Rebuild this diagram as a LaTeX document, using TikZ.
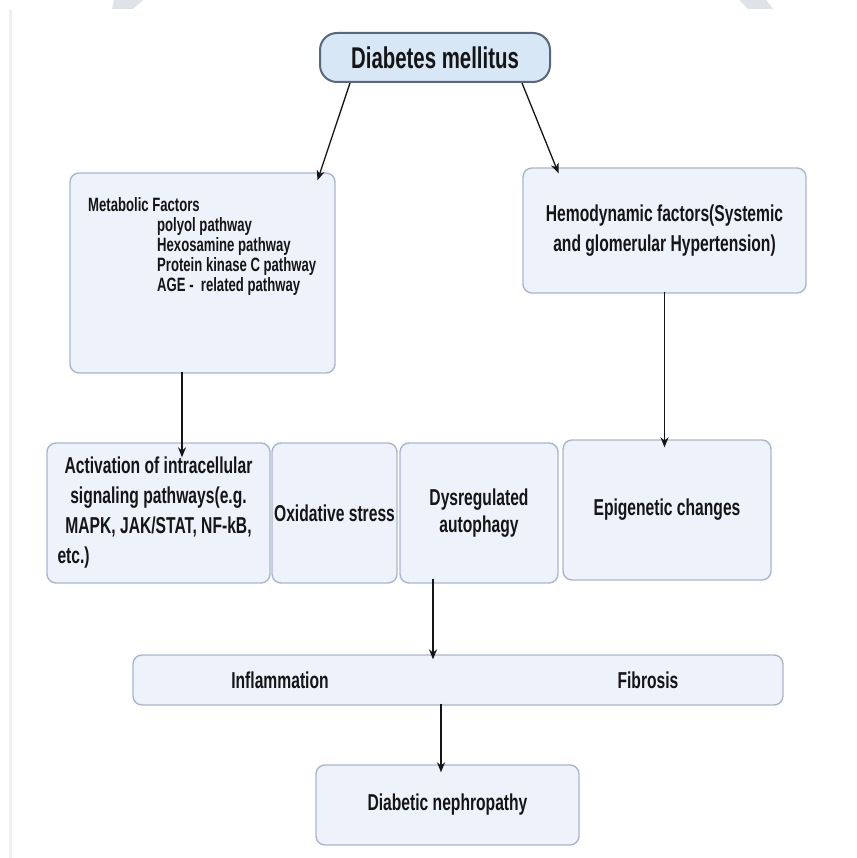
\documentclass[tikz,border=0pt]{standalone}
\usepackage{fontspec}
\setmainfont{Liberation Sans}[FakeStretch=0.68]
\usetikzlibrary{arrows.meta,calc}
\definecolor{boxfill}{HTML}{EEF3FB}
\definecolor{boxline}{HTML}{A9B7CD}
\definecolor{titlefill}{HTML}{D8E7F5}
\definecolor{titleline}{HTML}{55687D}
\definecolor{inkgray}{HTML}{151515}
\definecolor{markgray}{HTML}{DEE3E8}
\tikzset{
  factorbox/.style = {
    draw=boxline, fill=boxfill, line width=1.4pt,
    rounded corners=9pt, inner sep=0pt,
    text=inkgray, align=center,
    font=\bfseries\fontsize{23}{30}\selectfont
  },
  titlebox/.style = {
    factorbox, draw=titleline, fill=titlefill, line width=2pt,
    rounded corners=17pt,
    font=\bfseries\fontsize{30}{30}\selectfont
  },
  plainlabel/.style = {
    inner sep=0pt, text=inkgray,
    font=\bfseries\fontsize{23}{30}\selectfont
  },
  flowarrow/.style = {
    -{Stealth[length=10pt,width=8pt]}, line width=1.3pt, draw=inkgray
  },
}

\begin{document}
\begin{tikzpicture}[x=1pt,y=-1pt]
  \pgfmathsetmacro{\rowy}{513};
  \pgfmathsetmacro{\rowh}{140};
  % page and faint marks
  \path[fill=white] (0,0) rectangle (856,858);
  \useasboundingbox (0,0) rectangle (856,858);
  \fill[markgray] (114,0) -- (143,0) -- (133,9) -- (112,9) -- cycle;
  \fill[markgray] (739,0) -- (766,0) -- (773,9) -- (748,9) -- cycle;
  \draw[gray!12,line width=3pt] (10,10) -- (10,858);
  % top
  \node[titlebox,minimum width=230pt,minimum height=49pt] (dm) at (435,57.5) {Diabetes mellitus};
  \node[factorbox,minimum width=265pt,minimum height=200pt] (meta) at (202.5,273) {};
  \node[plainlabel,anchor=north west,align=left,font=\bfseries\fontsize{19.3}{20.2}\selectfont] (metatext) at (88,197)
    {Metabolic Factors\\
     \hspace*{69pt}polyol pathway\\
     \hspace*{69pt}Hexosamine pathway\\
     \hspace*{69pt}Protein kinase C pathway\\
     \hspace*{69pt}AGE -\ \ related pathway};
  \node[factorbox,minimum width=283pt,minimum height=125pt] (hemo) at (664.5,230.5)
    {Hemodynamic factors(Systemic\\and glomerular Hypertension)};
  % middle row
  \node[factorbox,minimum width=223pt,minimum height=\rowh pt] (act) at (158.5,\rowy)
    {Activation of intracellular\\signaling pathways(e.g.\\MAPK, JAK/STAT, NF-kB,\\\makebox[202pt][l]{etc.)}};
  \node[factorbox,minimum width=125pt,minimum height=\rowh pt] (oxi) at (334.5,\rowy) {Oxidative stress};
  \node[factorbox,minimum width=158pt,minimum height=\rowh pt,font=\bfseries\fontsize{23}{27}\selectfont] (dys) at (479,\rowy)
    {Dysregulated\\autophagy};
  \node[factorbox,minimum width=208pt,minimum height=\rowh pt] (epi) at (667,510) {Epigenetic changes};
  % bottom
  \node[factorbox,minimum width=650pt,minimum height=50pt] (bar) at (458,680) {};
  \node[plainlabel] (infl) at ([xshift=-178pt]bar.center) {Inflammation};
  \node[plainlabel] (fib) at ([xshift=190pt]bar.center) {Fibrosis};
  \node[factorbox,minimum width=263pt,minimum height=80pt] (nep) at (447.5,805) {Diabetic nephropathy};
  % arrows
  \draw[flowarrow] ([xshift=-85pt]dm.south) -- ([xshift=115pt,yshift=-8pt]meta.north);
  \draw[flowarrow] ([xshift=87pt]dm.south) -- ([xshift=-106pt,yshift=-6pt]hemo.north);
  \draw[flowarrow] ([xshift=-20.5pt,yshift=2pt]meta.south) -- ([xshift=23.5pt,yshift=-15pt]act.north);
  \draw[flowarrow] ([yshift=2pt]hemo.south) -- ([xshift=-2.5pt,yshift=-8pt]epi.north);
  \draw[flowarrow] ([xshift=-46pt,yshift=5pt]dys.south) -- ([xshift=-25pt,yshift=-5pt]bar.north);
  \draw[flowarrow] ([xshift=-17pt,yshift=2pt]bar.south) -- ([xshift=-6.5pt,yshift=-8pt]nep.north);
\end{tikzpicture}
\end{document}
